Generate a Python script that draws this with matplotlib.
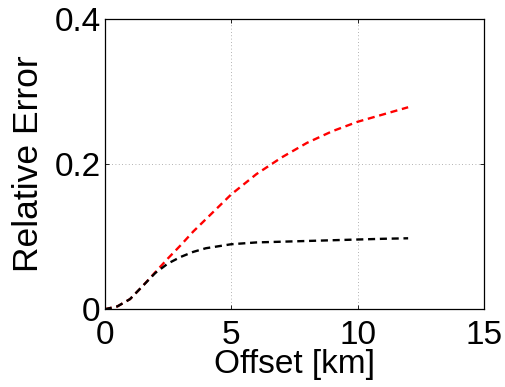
import matplotlib
matplotlib.use("Agg")
import matplotlib.pyplot as plt

plt.rcParams['font.family'] = ['Liberation Sans', 'DejaVu Sans']

# offset in km
offset = [0, 0.5, 1, 1.5, 2, 2.5, 3, 3.5, 4, 5, 6, 7, 8, 9, 10, 11, 12]
# relative error curves
err_red = [0, 0.004, 0.014, 0.032, 0.051, 0.070, 0.088, 0.107, 0.124, 0.158,
           0.186, 0.209, 0.229, 0.245, 0.258, 0.268, 0.278]
err_black = [0, 0.004, 0.014, 0.032, 0.050, 0.063, 0.072, 0.079, 0.084, 0.0895,
             0.092, 0.093, 0.094, 0.095, 0.096, 0.097, 0.0977]

xticks = [0, 5, 10, 15]
yticks = [0, 0.2, 0.4]
yticklabels = ['0', '0.2', '0.4']

fig = plt.figure(figsize=(5.06, 3.87), dpi=100)
ax = fig.add_axes([0.207, 0.2008, 0.7495, 0.7512])

ax.plot(offset, err_red, color='red', lw=1.7, dashes=(3, 2))
ax.plot(offset, err_black, color='black', lw=1.7, dashes=(3, 2))

ax.set_xlim(0, 15)
ax.set_ylim(0, 0.4)
ax.set_xticks(xticks)
ax.set_yticks(yticks)
ax.set_yticklabels(yticklabels)
ax.tick_params(direction='in', length=3, width=0.6, labelsize=24,
               top=True, right=True)
ax.tick_params(axis='y', pad=3)
ax.tick_params(axis='x', pad=8)
ax.grid(True, color='#999999', linestyle=(0, (1, 3)), lw=0.6)

for s in ax.spines.values():
    s.set_linewidth(0.9)

ax.set_xlabel('Offset [km]', fontsize=24, labelpad=-2)
ax.set_ylabel('Relative Error', fontsize=25.5, labelpad=7)

fig.savefig('out.png', dpi=100)
